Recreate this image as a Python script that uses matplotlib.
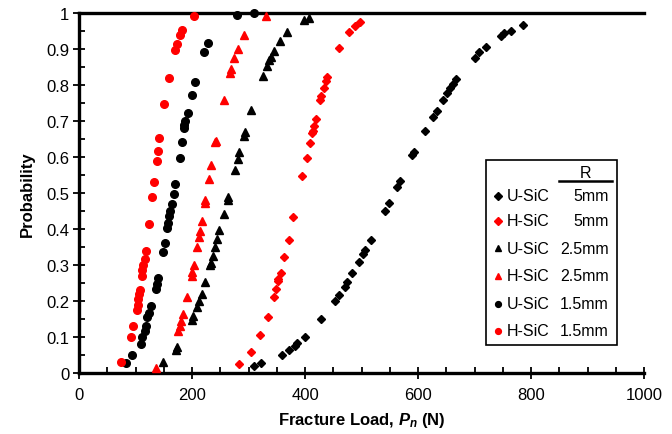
import matplotlib
matplotlib.use("Agg")
import matplotlib.pyplot as plt
from matplotlib.patches import Rectangle
from matplotlib.lines import Line2D
from matplotlib.ticker import MultipleLocator

plt.rcParams['font.family'] = ['Liberation Sans', 'DejaVu Sans']
plt.rcParams['mathtext.fontset'] = 'custom'
plt.rcParams['mathtext.it'] = 'Liberation Sans:italic:bold'
plt.rcParams['mathtext.rm'] = 'Liberation Sans:bold'

# ---- data (load N, probability) ----
usic5_load = [310, 323, 359, 372, 382, 386, 400, 429, 453, 461, 470, 475, 484, 496, 503, 507, 516,
              542, 548, 562, 568, 590, 593, 613, 626, 633, 644, 652, 656, 662, 668, 700, 708, 720,
              747, 753, 764, 785]
usic5_prob = [0.020, 0.027, 0.051, 0.065, 0.076, 0.082, 0.101, 0.151, 0.199, 0.218, 0.238, 0.253,
              0.277, 0.309, 0.330, 0.343, 0.370, 0.450, 0.472, 0.518, 0.534, 0.606, 0.615, 0.673,
              0.710, 0.729, 0.758, 0.779, 0.791, 0.803, 0.817, 0.874, 0.891, 0.905, 0.937, 0.944,
              0.951, 0.967]

hsic5_load = [283, 305, 321, 335, 345, 349, 352, 353, 357, 363, 371, 379, 395, 403, 409, 413, 414,
              416, 419, 427, 429, 434, 437, 439, 460, 478, 488, 497]
hsic5_prob = [0.025, 0.059, 0.106, 0.156, 0.210, 0.232, 0.256, 0.262, 0.278, 0.323, 0.370, 0.432,
              0.548, 0.597, 0.639, 0.668, 0.673, 0.685, 0.706, 0.758, 0.770, 0.791, 0.812, 0.821,
              0.903, 0.948, 0.965, 0.976]

usic25_load = [149, 171, 173.5, 200.5, 202.5, 208, 212.5, 217, 223, 232.5, 234, 237, 241, 244.5,
               248.5, 257, 263, 263, 276, 281, 284, 292, 294, 305, 325, 332, 336.5, 339.5, 345.5,
               355, 369, 399, 407]
usic25_prob = [0.030, 0.063, 0.073, 0.148, 0.159, 0.182, 0.200, 0.219, 0.253, 0.299, 0.305, 0.326,
               0.349, 0.372, 0.396, 0.442, 0.480, 0.488, 0.564, 0.594, 0.613, 0.659, 0.670, 0.731,
               0.826, 0.852, 0.869, 0.879, 0.894, 0.923, 0.946, 0.981, 0.986]

hsic25_load = [136, 176, 179, 180.5, 183.5, 191, 199.5, 200.5, 203, 209, 212, 214, 217, 223, 223,
               230, 234, 241, 242, 256, 268, 269, 275, 281, 292, 331]
hsic25_prob = [0.014, 0.118, 0.131, 0.145, 0.164, 0.210, 0.270, 0.280, 0.300, 0.351, 0.377, 0.395,
               0.421, 0.472, 0.480, 0.540, 0.578, 0.641, 0.645, 0.757, 0.833, 0.844, 0.874, 0.900,
               0.939, 0.991]

usic15_load = [84, 94, 109, 112, 116, 118, 121, 124, 127, 136, 138, 140, 149, 153, 156, 157, 160,
               161, 164, 168, 170, 178, 183, 185, 186, 187, 193, 200, 205, 221, 228, 280, 310]
usic15_prob = [0.028, 0.050, 0.081, 0.099, 0.118, 0.131, 0.155, 0.168, 0.187, 0.233, 0.247, 0.263,
               0.335, 0.360, 0.402, 0.418, 0.437, 0.451, 0.469, 0.497, 0.525, 0.596, 0.641, 0.680,
               0.690, 0.700, 0.722, 0.773, 0.807, 0.891, 0.918, 0.994, 1.000]

hsic15_load = [74, 92, 96, 103, 104, 105, 106, 108, 111, 112, 113, 117, 118, 124, 130, 133, 138,
               140, 142, 150, 159, 170, 173, 179, 183, 204]
hsic15_prob = [0.030, 0.100, 0.130, 0.175, 0.190, 0.205, 0.220, 0.230, 0.270, 0.285, 0.300, 0.317,
               0.340, 0.413, 0.490, 0.530, 0.590, 0.617, 0.653, 0.748, 0.819, 0.896, 0.913, 0.939,
               0.954, 0.991]

materials = ["U-SiC", "H-SiC", "U-SiC", "H-SiC", "U-SiC", "H-SiC"]
radii = ["5mm", "5mm", "2.5mm", "2.5mm", "1.5mm", "1.5mm"]
series = [(usic5_load, usic5_prob), (hsic5_load, hsic5_prob),
          (usic25_load, usic25_prob), (hsic25_load, hsic25_prob),
          (usic15_load, usic15_prob), (hsic15_load, hsic15_prob)]
markers = ["D", "D", "^", "^", "o", "o"]
msizes = [4.3, 4.3, 5.5, 5.5, 5.5, 5.5]
colors = ["black", "red", "black", "red", "black", "red"]

fig = plt.figure(figsize=(6.72, 4.35), dpi=100)
ax = fig.add_axes([79/672, 1-374/435, 565/672, 360/435])

for (xs, ys), m, ms, c in zip(series, markers, msizes, colors):
    ax.plot(xs, ys, linestyle='none', marker=m, markersize=ms, color=c,
            markeredgecolor=c, clip_on=False, zorder=3)

ax.set_xlim(0, 1000)
ax.set_ylim(0, 1)
ax.xaxis.set_major_locator(MultipleLocator(200))
ax.xaxis.set_minor_locator(MultipleLocator(50))
ax.yaxis.set_major_locator(MultipleLocator(0.1))
ax.yaxis.set_minor_locator(MultipleLocator(0.05))
ax.yaxis.set_major_formatter(matplotlib.ticker.FuncFormatter(lambda v, p: "0" if abs(v) < 1e-9 else ("1" if abs(v-1) < 1e-9 else f"{v:.1f}")))

ax.tick_params(axis='both', which='major', direction='inout', length=8, width=1.3, labelsize=12, pad=3)
ax.tick_params(axis='both', which='minor', direction='in', length=4, width=1.3)
ax.tick_params(axis='x', which='major', pad=6)

ax.spines['right'].set_visible(False)
for s in ['left', 'top', 'bottom']:
    ax.spines[s].set_linewidth(2.4)

ax.set_xlabel("Fracture Load, $P_n$ (N)", fontsize=12, fontweight='bold', labelpad=6)
ax.set_ylabel("Probability", fontsize=12, fontweight='bold', labelpad=8)

# ---- custom legend ----
L, R_, T, B = 0.720, 0.952, 0.592, 0.078
ax.add_patch(Rectangle((L, B), R_-L, T-B, transform=ax.transAxes, fill=True,
                       facecolor='white', edgecolor='black', linewidth=1.2, zorder=5))
ax.text(0.896, 0.558, "R", transform=ax.transAxes, ha='center', va='center', fontsize=11.5, zorder=6)
ax.add_line(Line2D([0.850, 0.943], [0.533, 0.533], transform=ax.transAxes, color='black',
                   linewidth=1.8, zorder=6))
row_y = [0.4925, 0.423, 0.347, 0.270, 0.192, 0.1175]
for yy, mat, rad, m, c in zip(row_y, materials, radii, markers, colors):
    ax.plot([0.742], [yy], transform=ax.transAxes, marker=m, markersize=4.2 if m != 'D' else 3.6,
            color=c, linestyle='none', zorder=6, clip_on=False)
    ax.text(0.757, yy, mat, transform=ax.transAxes, ha='left', va='center', fontsize=11.5, zorder=6)
    ax.text(0.938, yy, rad, transform=ax.transAxes, ha='right', va='center', fontsize=11.5, zorder=6)

fig.savefig("out.png", dpi=100)
